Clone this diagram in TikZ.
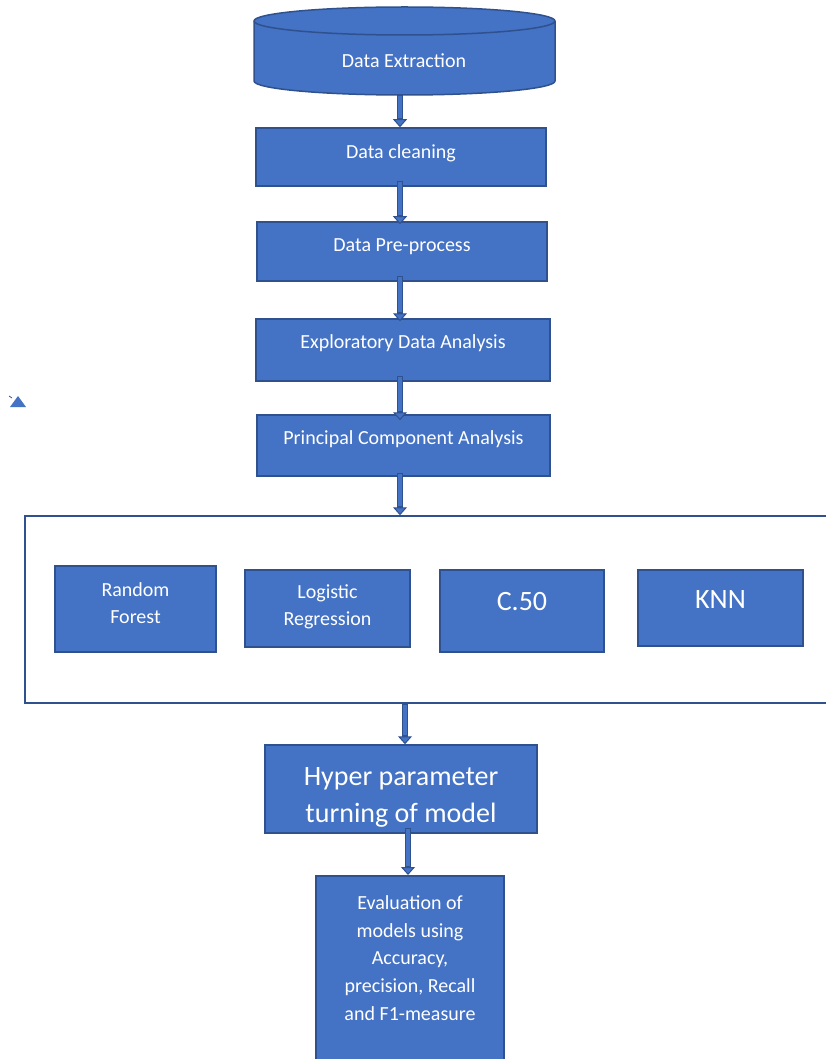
\documentclass[tikz,border=0pt]{standalone}
\usepackage{fontspec}
\setmainfont{Carlito}
\usetikzlibrary{arrows.meta,calc}
\definecolor{bfill}{HTML}{4472C4}
\definecolor{bline}{HTML}{2F528F}
\begin{document}
\begin{tikzpicture}[x=1pt,y=1pt,
  box/.style={draw=bline, fill=bfill, line width=1.5pt, inner sep=0pt},
  txt/.style={text=white, font=\fontsize{20}{27.5}\selectfont, align=center, inner sep=0pt},
  bigtxt/.style={text=white, font=\fontsize{28}{37}\selectfont, align=center, inner sep=0pt},
  arr/.style={draw=bline, line width=6.5pt,
    -{Triangle[width=14pt,length=8pt,line width=1pt,fill=bfill]},
    postaction={draw=bfill, line width=3.5pt, -, shorten >=9pt, shorten <=1pt}}
]
\useasboundingbox (0,0) rectangle (826,-1059);
\fill[white] (0,0) rectangle (826,-1059);

% cylinder
\filldraw[fill=bfill, draw=bline, line width=1.5pt]
  (254,-21) -- (254,-81) arc[start angle=180,end angle=360,x radius=150.5,y radius=14]
  -- (555,-21) arc[start angle=0,end angle=180,x radius=150.5,y radius=14] -- cycle;
\draw[bline, line width=1.5pt] (254,-21) arc[start angle=180,end angle=360,x radius=150.5,y radius=14];
\coordinate (ext) at (404,-95);
\node[txt] (extt) at (404,-61) {Data Extraction};

% boxes
\node[box, minimum width=290pt, minimum height=58pt] (clean) at (401,-157) {};
\node[txt] (cleant) at ([yshift=4pt]clean.center) {Data cleaning};
\node[box, minimum width=290pt, minimum height=59pt] (pre) at (402,-251.5) {};
\node[txt] (pret) at ([yshift=5pt]pre.center) {Data Pre-process};
\node[box, minimum width=294pt, minimum height=62pt] (eda) at (403,-350) {};
\node[txt] (edat) at ([yshift=7pt]eda.center) {Exploratory Data Analysis};
\node[box, minimum width=293pt, minimum height=61pt] (pca) at (403.5,-445.5) {};
\node[txt] (pcat) at ([yshift=6pt]pca.center) {Principal Component Analysis};

% frame
\node[draw=bline, fill=white, line width=1.5pt, minimum width=805pt, minimum height=187pt, inner sep=0pt] (frame) at (427.5,-609.5) {};

\node[box, minimum width=161pt, minimum height=86pt] (rf) at (135.5,-609) {};
\node[txt] (rft) at ([yshift=6pt]rf.center) {Random\\Forest};
\node[box, minimum width=165pt, minimum height=77pt] (lr) at (327.5,-608.5) {};
\node[txt] (lrt) at ([yshift=1.5pt]lr.center) {Logistic\\Regression};
\node[box, minimum width=164pt, minimum height=82pt] (c50) at (522,-611) {};
\node[bigtxt] (c50t) at ([yshift=9pt]c50.center) {C.50};
\node[box, minimum width=165pt, minimum height=76pt] (knn) at (720.5,-608) {};
\node[bigtxt] (knnt) at ([yshift=8pt]knn.center) {KNN};

% hyper parameter
\node[box, minimum width=272pt, minimum height=88pt] (hyp) at (401,-789) {};
\begin{scope}
  \clip (265,-745) rectangle (537,-826);
  \node[bigtxt] (hypt) at (401,-797) {Hyper parameter\\turning of model};
\end{scope}

% evaluation
\node[box, minimum width=188pt, minimum height=200pt, anchor=north] (eval) at (410,-875) {};
\node[txt, font=\fontsize{20}{27.8}\selectfont] (evalt) at (410,-958) {Evaluation of\\models using\\Accuracy,\\precision, Recall\\and F1-measure};

% arrows
\draw[arr] (ext -| 400,0) -- (clean.north -| 400,0);
\draw[arr] ([yshift=6pt]clean.south -| 400,0) -- ([yshift=-3pt]pre.north -| 400,0);
\draw[arr] ([yshift=6pt]pre.south -| 400,0) -- ([yshift=-3pt]eda.north -| 400,0);
\draw[arr] ([yshift=6pt]eda.south -| 400,0) -- ([yshift=-6pt]pca.north -| 400,0);
\draw[arr] ([yshift=4pt]pca.south -| 400,0) -- (frame.north -| 400,0);
\draw[arr] (frame.south -| 405,0) -- (hyp.north -| 405,0);
\draw[arr] ([yshift=6pt]hyp.south -| 408,0) -- (eval.north -| 408,0);

% small triangle
\fill[bfill] (10,-407) -- (18,-396) -- (26,-407) -- cycle;
\draw[bline, line width=0.7pt] (9,-396) -- (12,-398);
\end{tikzpicture}
\end{document}
